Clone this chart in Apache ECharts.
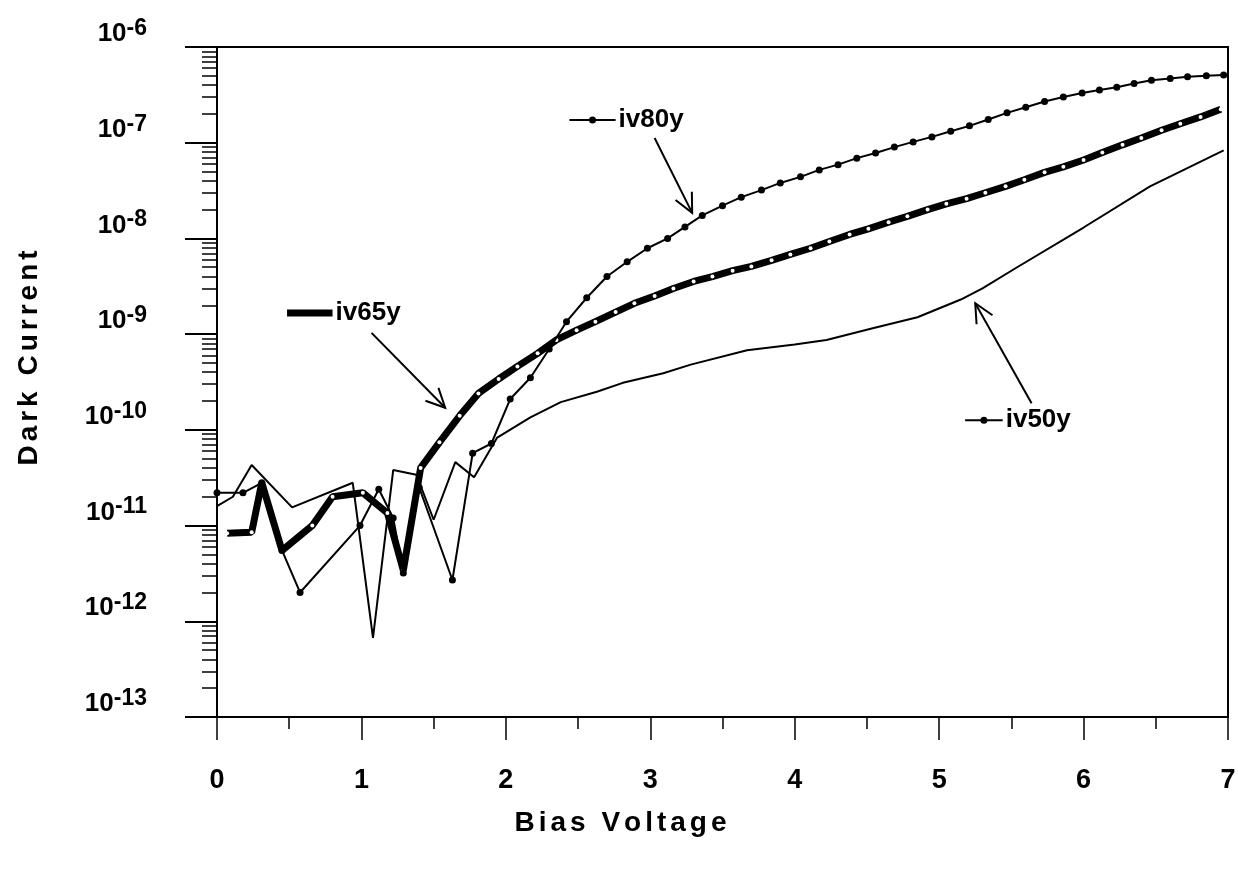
<!DOCTYPE html>
<html>
<head>
<meta charset="utf-8">
<script src="https://cdn.jsdelivr.net/npm/echarts@6/dist/echarts.min.js"></script>
<style>
html, body { margin: 0; background: #fff; }
#chart { width: 1238px; height: 871px; }
</style>
</head>
<body>
<div id="chart"></div>
<script>
// [bias voltage (V), dark current (A)]
var iv80y = [[0.00,2.2e-11],[0.18,2.2e-11],[0.31,2.8e-11],[0.45,5.5e-12],[0.575,2.0e-12],[0.99,1.0e-11],
    [1.12,2.4e-11],[1.22,1.2e-11],[1.29,3.2e-12],[1.40,2.5e-11],[1.63,2.7e-12],[1.77,5.7e-11],[1.90,7.2e-11],
    [2.03,2.1e-10],[2.17,3.5e-10],[2.30,7.0e-10],[2.42,1.35e-9],[2.56,2.4e-9],[2.70,4.0e-9],[2.84,5.7e-9],
    [2.98,7.9e-9],[3.12,1.0e-8],[3.24,1.32e-8],[3.36,1.74e-8],[3.50,2.2e-8],[3.63,2.7e-8],[3.77,3.2e-8],
    [3.90,3.8e-8],[4.04,4.4e-8],[4.17,5.2e-8],[4.30,5.9e-8],[4.43,6.9e-8],[4.56,7.8e-8],[4.69,9.0e-8],
    [4.82,1.02e-7],[4.95,1.15e-7],[5.08,1.32e-7],[5.21,1.5e-7],[5.34,1.75e-7],[5.47,2.05e-7],[5.60,2.35e-7],
    [5.73,2.7e-7],[5.86,3.0e-7],[5.99,3.3e-7],[6.11,3.55e-7],[6.23,3.8e-7],[6.35,4.15e-7],[6.47,4.5e-7],
    [6.60,4.7e-7],[6.72,4.9e-7],[6.85,5.0e-7],[6.97,5.1e-7]];

var iv65y = [[0.07,8.3e-12],[0.24,8.5e-12],[0.31,2.8e-11],[0.45,5.5e-12],[0.66,1.0e-11],[0.80,2.0e-11],
    [1.01,2.2e-11],[1.18,1.35e-11],[1.29,3.4e-12],[1.41,4.0e-11],[1.54,7.4e-11],[1.68,1.4e-10],[1.81,2.4e-10],
    [1.95,3.4e-10],[2.08,4.6e-10],[2.22,6.3e-10],[2.35,8.7e-10],[2.49,1.1e-9],[2.62,1.35e-9],[2.76,1.7e-9],
    [2.89,2.1e-9],[3.03,2.5e-9],[3.16,3.0e-9],[3.30,3.55e-9],[3.43,4.0e-9],[3.57,4.6e-9],[3.70,5.1e-9],
    [3.84,5.9e-9],[3.97,6.8e-9],[4.11,7.9e-9],[4.24,9.3e-9],[4.38,1.1e-8],[4.51,1.26e-8],[4.65,1.48e-8],
    [4.78,1.7e-8],[4.92,2.0e-8],[5.05,2.3e-8],[5.19,2.6e-8],[5.32,3.0e-8],[5.46,3.5e-8],[5.59,4.1e-8],
    [5.73,4.9e-8],[5.86,5.6e-8],[6.00,6.6e-8],[6.13,7.9e-8],[6.27,9.5e-8],[6.40,1.12e-7],[6.54,1.35e-7],
    [6.67,1.58e-7],[6.81,1.86e-7],[6.95,2.24e-7]];

var iv50y = [[0.00,1.6e-11],[0.11,2.0e-11],[0.24,4.3e-11],[0.52,1.55e-11],[0.94,2.8e-11],[1.08,6.7e-13],
    [1.22,3.8e-11],[1.38,3.4e-11],[1.50,1.15e-11],[1.65,4.6e-11],[1.78,3.2e-11],[1.94,8.3e-11],[2.17,1.35e-10],
    [2.38,1.95e-10],[2.63,2.5e-10],[2.81,3.1e-10],[3.09,3.9e-10],[3.28,4.8e-10],[3.67,6.8e-10],[4.00,7.8e-10],
    [4.22,8.7e-10],[4.54,1.15e-9],[4.85,1.5e-9],[5.15,2.3e-9],[5.30,3.0e-9],[5.54,5.0e-9],[6.00,1.3e-8],
    [6.46,3.5e-8],[6.97,8.3e-8]];

// minor ticks of the log axis: mantissa x decade
var minorMantissa = [2, 3, 4, 5, 6, 7, 8, 9];
var minorDecades = [-13, -12, -11, -10, -9, -8, -7];

// hand-written notes on the plot, in data units
var noteNames = ['iv80y', 'iv65y', 'iv50y'];
var noteKeyStart = [2.44, 0.485, 5.18];
var noteKeyEnd = [2.76, 0.80, 5.44];
var noteY = [1.73e-7, 1.66e-9, 1.26e-10];
var arrowFrom = [[3.03, 1.12e-7], [1.07, 1.03e-9], [5.64, 1.9e-10]];
var arrowTo = [[3.29, 1.85e-8], [1.58, 1.7e-10], [5.25, 2.1e-9]];

var yMinor = [];
minorDecades.forEach(function (d) {
    minorMantissa.forEach(function (m) { yMinor.push(+(m + 'e' + d)); });
});

var FONT = '"Liberation Sans", Arial, sans-serif';

// letter-spaced axis titles, one rich token per character
function spaced(str) {
    return str.split('').map(function (c) { return '{c|' + c + '}'; }).join('');
}
var spacedRich = {
    c: { fontFamily: FONT, fontSize: 28, fontWeight: 'bold', color: '#000', padding: [0, 2, 0, 2] }
};

var myChart = echarts.init(document.getElementById('chart'));

var option = {
    animation: false,
    backgroundColor: '#fff',
    grid: {
        left: 217, right: 10, top: 47, bottom: 154,
        show: true, borderColor: '#000', borderWidth: 2,
        outerBoundsMode: 'none'
    },
    xAxis: {
        type: 'value',
        min: 0, max: 7, interval: 1,
        name: spaced('Bias Voltage'),
        nameLocation: 'middle',
        nameGap: 92,
        nameTextStyle: { padding: [0, 204, 0, 0], rich: spacedRich },
        axisLine: { lineStyle: { color: '#000', width: 2 } },
        axisTick: { length: 23, lineStyle: { color: '#000', width: 1.5 } },
        minorTick: { show: true, splitNumber: 2, length: 12, lineStyle: { color: '#000', width: 1.5 } },
        axisLabel: { margin: 50, fontFamily: FONT, fontSize: 27, fontWeight: 'bold', color: '#000' },
        splitLine: { show: false }
    },
    yAxis: [{
        type: 'log',
        min: 1e-13, max: 1e-6,
        name: spaced('Dark Current'),
        nameLocation: 'middle',
        nameGap: 174,
        nameRotate: 90,
        nameTextStyle: { padding: [0, 0, 0, 48], rich: spacedRich },
        axisLine: { lineStyle: { color: '#000', width: 2 } },
        axisTick: { length: 32, lineStyle: { color: '#000', width: 2 } },
        axisLabel: {
            margin: 70,
            padding: [0, 0, 30, 0],
            formatter: function (v) {
                var e = Math.round(Math.log10(v));
                return '{b|10}{s|' + e + '}';
            },
            rich: {
                b: { fontFamily: FONT, fontSize: 26, fontWeight: 'bold', color: '#000', lineHeight: 30, verticalAlign: 'bottom' },
                s: { fontFamily: FONT, fontSize: 23, fontWeight: 'bold', color: '#000', lineHeight: 30, verticalAlign: 'top' }
            }
        },
        splitLine: { show: false }
    }, {
        type: 'log',
        min: 1e-13, max: 1e-6,
        position: 'left',
        axisLine: { show: false },
        axisLabel: { show: false },
        splitLine: { show: false },
        axisTick: { customValues: yMinor, length: 15, lineStyle: { color: '#000', width: 1.5 } }
    }],
    series: [{
        name: 'iv50y',
        type: 'line',
        data: iv50y,
        showSymbol: false,
        lineStyle: { color: '#000', width: 2 },
        z: 2
    }, {
        name: 'iv65y',
        type: 'line',
        data: iv65y,
        symbol: 'circle',
        symbolSize: 4,
        itemStyle: { color: '#fff', borderWidth: 0 },
        lineStyle: { color: '#000', width: 7 },
        z: 3
    }, {
        name: 'iv80y',
        type: 'line',
        data: iv80y,
        symbol: 'circle',
        symbolSize: 7,
        itemStyle: { color: '#000', borderWidth: 0 },
        lineStyle: { color: '#000', width: 2 },
        z: 4
    }, {
        type: 'custom',
        silent: true,
        data: arrowFrom.map(function (a, i) { return [a[0], a[1], arrowTo[i][0], arrowTo[i][1]]; }),
        renderItem: function (params, api) {
            var p1 = api.coord([api.value(0), api.value(1)]);
            var p2 = api.coord([api.value(2), api.value(3)]);
            var ang = Math.atan2(p2[1] - p1[1], p2[0] - p1[0]);
            var L = 21, w = 0.45;
            var h1 = [p2[0] - L * Math.cos(ang - w), p2[1] - L * Math.sin(ang - w)];
            var h2 = [p2[0] - L * Math.cos(ang + w), p2[1] - L * Math.sin(ang + w)];
            return {
                type: 'group',
                children: [
                    { type: 'line', shape: { x1: p1[0], y1: p1[1], x2: p2[0], y2: p2[1] }, style: { stroke: '#000', lineWidth: 2 } },
                    { type: 'polyline', shape: { points: [h1, p2, h2] }, style: { stroke: '#000', lineWidth: 2, fill: null } }
                ]
            };
        },
        z: 5
    }, {
        type: 'custom',
        silent: true,
        data: noteNames.map(function (n, i) { return [noteKeyStart[i], noteY[i]]; }),
        renderItem: function (params, api) {
            var i = params.dataIndex;
            var p1 = api.coord([noteKeyStart[i], noteY[i]]);
            var p2 = api.coord([noteKeyEnd[i], noteY[i]]);
            var kids = [{
                type: 'line',
                shape: { x1: p1[0], y1: p1[1], x2: p2[0], y2: p2[1] },
                style: { stroke: '#000', lineWidth: i === 1 ? 7 : 2 }
            }];
            if (i !== 1) {
                kids.push({ type: 'circle', shape: { cx: (p1[0] + p2[0]) / 2, cy: p1[1], r: 3.5 }, style: { fill: '#000' } });
            }
            kids.push({
                type: 'text',
                style: {
                    text: noteNames[i], x: p2[0] + 3, y: p1[1],
                    fill: '#000', fontFamily: FONT, fontSize: 26, fontWeight: 'bold',
                    align: 'left', verticalAlign: 'middle'
                }
            });
            return { type: 'group', children: kids };
        },
        z: 5
    }]
};
myChart.setOption(option);

window.addEventListener('resize', function () {
    myChart.resize();
});
</script>
</body>
</html>
